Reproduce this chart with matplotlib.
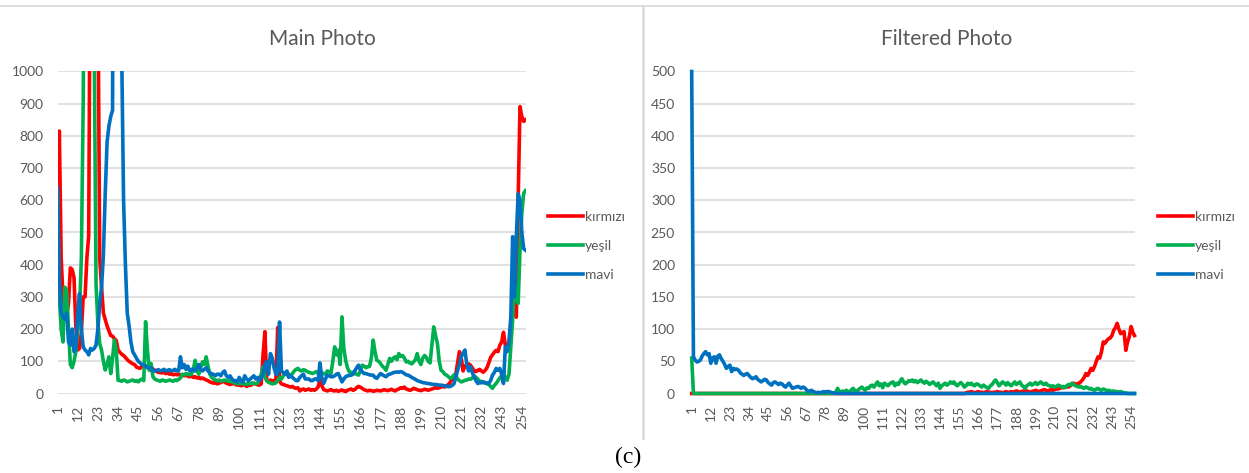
import numpy as np
import matplotlib.pyplot as plt
from matplotlib.lines import Line2D

plt.rcParams['font.family'] = ['Lato', 'DejaVu Sans']

# Histogram bins 1..256
categories = list(range(1, 257))
labels = ['kırmızı', 'yeşil', 'mavi']

# Main Photo
main_red = [
    620, 815, 420, 300, 260, 240, 280, 390, 385, 360, 205, 135, 140, 190, 300, 300,
    420, 490, 1600, 2600, 3000, 2200, 1300, 420, 330, 250, 230, 210, 195, 180, 178, 170,
    165, 135, 128, 122, 118, 112, 105, 100, 96, 92, 90, 82, 80, 78, 85, 88,
    86, 84, 82, 80, 76, 72, 68, 66, 65, 64, 66, 62, 64, 60, 62, 58,
    60, 58, 60, 56, 58, 55, 57, 54, 52, 55, 50, 52, 48, 50, 46, 48,
    45, 42, 40, 36, 34, 32, 35, 30, 32, 34, 38, 36, 32, 30, 28, 30,
    32, 28, 26, 28, 24, 26, 28, 22, 26, 25, 28, 32, 30, 27, 26, 30,
    120, 192, 40, 36, 42, 38, 40, 44, 205, 38, 30, 28, 26, 24, 22, 20,
    22, 18, 16, 18, 8, 12, 14, 10, 12, 14, 10, 12, 10, 14, 20, 42,
    25, 12, 10, 8, 10, 12, 9, 8, 10, 7, 9, 11, 8, 6, 10, 12,
    14, 10, 12, 18, 22, 20, 16, 12, 10, 8, 10, 9, 7, 8, 10, 9,
    8, 10, 12, 10, 9, 11, 13, 10, 8, 12, 14, 18, 16, 20, 14, 12,
    10, 12, 16, 14, 12, 10, 9, 11, 13, 12, 10, 12, 14, 16, 18, 16,
    18, 20, 22, 20, 24, 28, 35, 48, 42, 60, 95, 130, 110, 70, 85, 90,
    92, 88, 80, 70, 68, 72, 75, 70, 66, 72, 80, 95, 112, 120, 128, 134,
    130, 150, 160, 190, 150, 140, 160, 200, 280, 250, 237, 600, 891, 860, 845, 850,
]
main_green = [
    620, 300, 200, 160, 330, 320, 200, 90, 80, 100, 130, 200, 260, 420, 900, 1800,
    2800, 3000, 2500, 1800, 1100, 340, 217, 155, 135, 100, 73, 90, 114, 62, 110, 166,
    135, 41, 40, 38, 42, 40, 36, 38, 40, 42, 38, 40, 36, 42, 45, 40,
    223, 135, 72, 93, 52, 45, 42, 40, 38, 42, 40, 38, 40, 42, 40, 38,
    42, 40, 44, 48, 60, 58, 62, 60, 58, 60, 75, 103, 70, 60, 80, 98,
    90, 114, 85, 60, 50, 45, 42, 40, 42, 38, 40, 42, 40, 38, 40, 36,
    34, 32, 30, 32, 30, 32, 30, 28, 32, 30, 33, 31, 30, 32, 45, 60,
    83, 50, 40, 35, 32, 30, 31, 33, 40, 50, 45, 55, 62, 58, 60, 55,
    62, 70, 75, 78, 72, 70, 74, 72, 68, 66, 64, 62, 65, 68, 62, 60,
    64, 62, 60, 70, 68, 62, 100, 145, 120, 135, 90, 238, 140, 103, 80, 67,
    65, 66, 62, 60, 57, 70, 88, 85, 80, 83, 84, 110, 166, 130, 103, 100,
    93, 85, 80, 72, 90, 109, 100, 110, 114, 105, 124, 115, 118, 110, 98, 100,
    95, 92, 98, 105, 124, 100, 90, 110, 118, 112, 100, 95, 150, 207, 180, 155,
    100, 72, 68, 60, 57, 52, 47, 50, 58, 55, 45, 40, 36, 38, 41, 42,
    45, 44, 48, 55, 50, 45, 36, 38, 34, 32, 31, 28, 22, 16, 25, 31,
    40, 48, 55, 62, 50, 41, 60, 145, 230, 342, 300, 280, 446, 560, 622, 630,
]
main_blue = [
    640, 350, 250, 238, 230, 250, 160, 150, 200, 130, 140, 250, 310, 200, 145, 135,
    130, 120, 140, 135, 140, 150, 200, 280, 330, 430, 620, 780, 830, 860, 880, 3000,
    3000, 3000, 3000, 1050, 600, 400, 250, 210, 160, 130, 120, 110, 100, 95, 90, 88,
    85, 80, 80, 80, 70, 70, 72, 74, 70, 72, 75, 70, 72, 74, 70, 72,
    75, 70, 70, 114, 80, 90, 75, 85, 70, 75, 75, 70, 80, 90, 75, 70,
    75, 80, 70, 65, 60, 60, 55, 60, 60, 55, 65, 70, 55, 50, 55, 45,
    40, 40, 35, 50, 40, 35, 55, 45, 40, 45, 50, 55, 45, 50, 40, 50,
    60, 90, 100, 60, 124, 110, 80, 60, 60, 222, 70, 65, 60, 70, 50, 55,
    50, 45, 40, 40, 50, 55, 60, 45, 45, 45, 40, 40, 45, 45, 40, 95,
    50, 31, 45, 57, 55, 52, 52, 55, 60, 62, 50, 36, 45, 52, 55, 56,
    57, 60, 70, 80, 88, 75, 68, 62, 62, 60, 58, 57, 57, 50, 47, 55,
    62, 58, 55, 52, 58, 60, 62, 65, 66, 67, 66, 68, 66, 62, 58, 57,
    54, 50, 47, 44, 40, 38, 36, 34, 33, 32, 31, 30, 29, 28, 28, 27,
    26, 26, 25, 24, 23, 21, 22, 25, 30, 50, 72, 90, 114, 125, 135, 90,
    70, 83, 65, 52, 40, 31, 35, 33, 36, 34, 31, 32, 40, 57, 65, 78,
    72, 78, 60, 31, 145, 130, 160, 238, 487, 300, 487, 620, 600, 500, 450, 445,
]

# Filtered Photo
filt_red = [
    0, 0, 0, 0, 0, 0, 0, 0, 0, 0, 0, 0, 0, 0, 0, 0,
    0, 0, 0, 0, 0, 0, 0, 0, 0, 0, 0, 0, 0, 0, 0, 0,
    0, 0, 0, 0, 0, 0, 0, 0, 0, 0, 0, 0, 0, 0, 0, 0,
    0, 0, 0, 0, 0, 0, 0, 0, 0, 0, 0, 0, 0, 0, 0, 0,
    0, 0, 0, 0, 0, 0, 0, 0, 0, 0, 0, 0, 0, 0, 0, 0,
    0, 0, 0, 0, 0, 0, 0, 0, 0, 0, 0, 0, 0, 0, 0, 0,
    0, 0, 0, 0, 0, 0, 0, 0, 0, 0, 0, 0, 0, 0, 0, 0,
    0, 0, 0, 0, 0, 0, 0, 0, 0, 0, 0, 0, 0, 0, 0, 0,
    0, 0, 0, 0, 0, 0, 0, 0, 0, 0, 0, 0, 0, 0, 0, 0,
    0, 0, 0, 0, 0, 0, 0, 0, 0, 0, 0, 0, 0, 0, 1, 2,
    2, 3, 2, 1, 2, 3, 2, 2, 1, 2, 3, 2, 2, 1, 2, 2,
    3, 2, 2, 1, 2, 3, 2, 2, 3, 2, 3, 4, 3, 2, 3, 4,
    3, 4, 3, 2, 3, 4, 5, 4, 3, 4, 5, 6, 5, 4, 5, 6,
    5, 6, 7, 7, 8, 9, 9, 10, 11, 10, 12, 14, 16, 14, 15, 16,
    18, 21, 25, 31, 28, 33, 39, 36, 42, 50, 57, 55, 65, 80, 78, 82,
    85, 86, 90, 98, 102, 109, 100, 93, 95, 96, 67, 80, 88, 104, 95, 90,
]
filt_green = [
    55, 0, 0, 0, 0, 0, 0, 0, 0, 0, 0, 0, 0, 0, 0, 0,
    0, 0, 0, 0, 0, 0, 0, 0, 0, 0, 0, 0, 0, 0, 0, 0,
    0, 0, 0, 0, 0, 0, 0, 0, 0, 0, 0, 0, 0, 0, 0, 0,
    0, 0, 0, 0, 0, 0, 0, 0, 0, 0, 0, 0, 0, 0, 0, 0,
    0, 0, 0, 0, 0, 0, 0, 0, 0, 0, 0, 0, 0, 0, 0, 0,
    0, 0, 0, 2, 8, 3, 1, 4, 2, 5, 3, 2, 6, 8, 4, 3,
    6, 8, 10, 7, 5, 9, 8, 12, 13, 10, 14, 18, 12, 15, 9, 16,
    14, 12, 15, 17, 18, 12, 16, 14, 19, 23, 18, 15, 17, 20, 19, 21,
    18, 20, 17, 19, 21, 18, 16, 19, 17, 14, 16, 18, 15, 12, 16, 8,
    12, 14, 16, 13, 15, 18, 16, 18, 14, 12, 15, 17, 14, 10, 12, 16,
    14, 16, 13, 12, 15, 14, 12, 10, 13, 11, 9, 8, 12, 14, 18, 21,
    17, 12, 15, 18, 16, 13, 17, 14, 12, 15, 18, 14, 16, 18, 13, 11,
    8, 12, 14, 16, 13, 15, 17, 14, 16, 18, 15, 14, 16, 13, 12, 11,
    12, 10, 11, 13, 12, 10, 11, 9, 12, 14, 13, 16, 14, 12, 11, 10,
    11, 9, 8, 10, 9, 7, 8, 6, 5, 7, 8, 6, 5, 7, 6, 4,
    5, 4, 3, 4, 3, 3, 2, 3, 2, 1, 1, 0, 0, 0, 0, 0,
]
filt_blue = [
    500, 57, 52, 49, 50, 52, 58, 62, 65, 60, 62, 47, 55, 57, 47, 58,
    60, 54, 50, 45, 39, 42, 44, 34, 39, 37, 38, 36, 32, 30, 28, 30,
    31, 28, 25, 23, 24, 26, 22, 20, 18, 20, 22, 21, 17, 15, 13, 17,
    18, 16, 14, 16, 15, 12, 10, 13, 16, 12, 8, 9, 10, 11, 10, 8,
    10, 9, 6, 3, 4, 5, 3, 2, 1, 2, 1, 2, 3, 2, 3, 3,
    2, 1, 1, 0, 0, 0, 0, 0, 0, 0, 0, 0, 0, 0, 0, 0,
    0, 0, 0, 0, 0, 0, 0, 0, 0, 0, 0, 0, 0, 0, 0, 0,
    0, 0, 0, 0, 0, 0, 0, 0, 0, 0, 0, 0, 0, 0, 0, 0,
    0, 0, 0, 0, 0, 0, 0, 0, 0, 0, 0, 0, 0, 0, 0, 0,
    0, 0, 0, 0, 0, 0, 0, 0, 0, 0, 0, 0, 0, 0, 0, 0,
    0, 0, 0, 0, 0, 0, 0, 0, 0, 0, 0, 0, 0, 0, 0, 0,
    0, 0, 0, 0, 0, 0, 0, 0, 0, 0, 0, 0, 0, 0, 0, 0,
    0, 0, 0, 0, 0, 0, 0, 0, 0, 0, 0, 0, 0, 0, 0, 0,
    0, 0, 0, 0, 0, 0, 0, 0, 0, 0, 0, 0, 0, 0, 0, 0,
    0, 0, 0, 0, 0, 0, 0, 0, 0, 0, 0, 0, 0, 0, 0, 0,
    0, 0, 0, 0, 0, 0, 0, 0, 0, 0, 0, 0, 0, 0, 0, 0,
]

colors = ['#FF0000', '#00B050', '#0070C0']
grey_txt = '#595959'
grid_col = '#D9D9D9'

W, H = 1249, 473
fig = plt.figure(figsize=(W / 100, H / 100), dpi=100)


def axes_px(x0, x1, y_top, y_bot):
    return fig.add_axes([x0 / W, 1 - y_bot / H, (x1 - x0) / W, (y_bot - y_top) / H])


def draw_chart(ax, series, ymax, ystep, ypad, clip):
    x = np.arange(len(categories))
    for y, c, lab in zip(series, colors, labels):
        ax.plot(x, y, color=c, lw=2.6, label=lab, clip_on=clip,
                solid_joinstyle='round', zorder=3)
    ax.set_xlim(0, len(categories) - 1)
    ax.set_ylim(0, ymax)
    ax.set_yticks(np.arange(0, ymax + 1, ystep))
    ax.set_xticks(x[::11])
    ax.set_xticklabels([str(c) for c in categories[::11]], rotation=90)
    ax.tick_params(axis='y', length=0, pad=ypad, labelsize=10, labelcolor=grey_txt)
    ax.tick_params(axis='x', length=0, pad=8, labelsize=10, labelcolor=grey_txt)
    ax.grid(axis='y', color=grid_col, lw=1.1)
    ax.set_axisbelow(True)
    for s in ax.spines.values():
        s.set_visible(False)


ax1 = axes_px(57.5, 525.5, 71.5, 393.5)
draw_chart(ax1, [main_red, main_green, main_blue], 1000, 100, 10, True)

ax2 = axes_px(691.7, 1134.5, 71.5, 393.5)
draw_chart(ax2, [filt_red, filt_green, filt_blue], 500, 50, 12, False)

# titles
fig.text(322 / W, 1 - 45 / H, 'Main Photo', ha='center', va='baseline',
         fontsize=15, color=grey_txt)
fig.text(947 / W, 1 - 45 / H, 'Filtered Photo', ha='center', va='baseline',
         fontsize=15, color=grey_txt)

# legends to the right of each plot
for ax, lx in [(ax1, 548), (ax2, 1158)]:
    h, l = ax.get_legend_handles_labels()
    fig.legend(h, l, loc='center left', bbox_to_anchor=(lx / W, 1 - 246 / H),
               frameon=False, fontsize=10, labelcolor=grey_txt, borderpad=0,
               borderaxespad=0, handlelength=2.5, handletextpad=0.15,
               labelspacing=1.2)

# frame lines of the figure
fig.add_artist(Line2D([0, 1], [1 - 6 / H] * 2, color=grid_col, lw=1.2,
                      transform=fig.transFigure))
fig.add_artist(Line2D([643 / W] * 2, [1 - 6 / H, 1 - 438 / H], color=grid_col,
                      lw=1.8, transform=fig.transFigure))

fig.text(628 / W, 1 - 463 / H, '(c)', ha='center', va='baseline',
         family='Liberation Serif', fontsize=17, color='black')

fig.savefig('out.png', dpi=100)
